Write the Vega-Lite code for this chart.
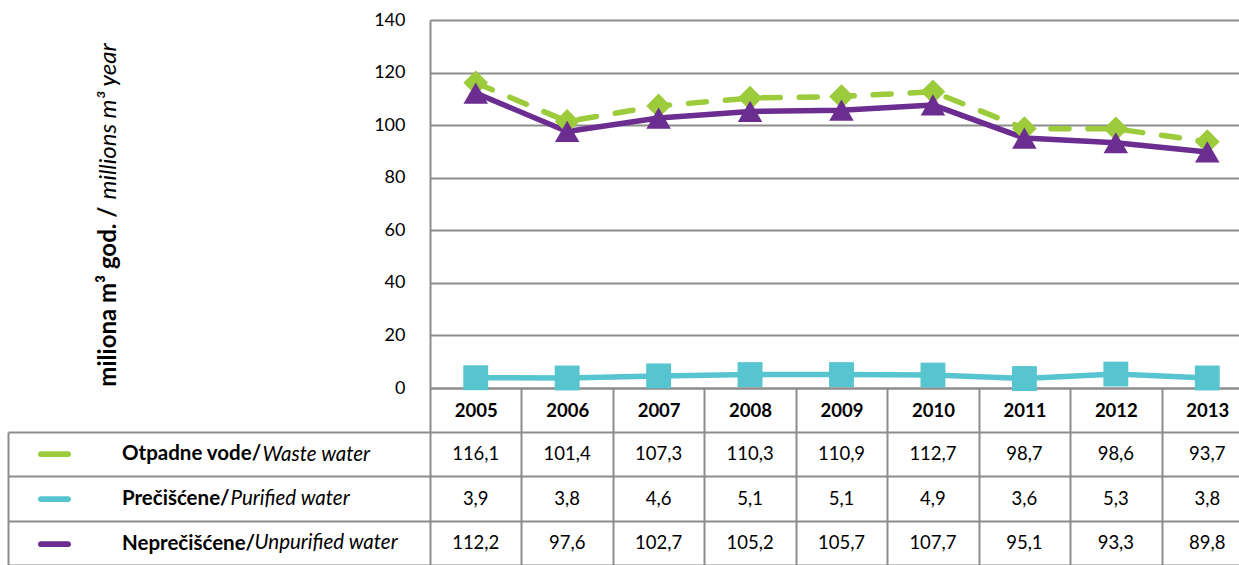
{
  "$schema": "https://vega.github.io/schema/vega-lite/v6.json",
  "width": 1239,
  "height": 565,
  "autosize": "none",
  "padding": 0,
  "background": "white",
  "config": {
    "view": {"stroke": null},
    "font": "Lato",
    "locale": {"number": {"decimal": ",", "thousands": ".", "grouping": [3], "currency": ["", ""]}}
  },
  "data": {
    "values": [
      {"year": "2005", "series": "Otpadne vode", "value": 116.1},
      {"year": "2006", "series": "Otpadne vode", "value": 101.4},
      {"year": "2007", "series": "Otpadne vode", "value": 107.3},
      {"year": "2008", "series": "Otpadne vode", "value": 110.3},
      {"year": "2009", "series": "Otpadne vode", "value": 110.9},
      {"year": "2010", "series": "Otpadne vode", "value": 112.7},
      {"year": "2011", "series": "Otpadne vode", "value": 98.7},
      {"year": "2012", "series": "Otpadne vode", "value": 98.6},
      {"year": "2013", "series": "Otpadne vode", "value": 93.7},
      {"year": "2005", "series": "Prečišćene", "value": 3.9},
      {"year": "2006", "series": "Prečišćene", "value": 3.8},
      {"year": "2007", "series": "Prečišćene", "value": 4.6},
      {"year": "2008", "series": "Prečišćene", "value": 5.1},
      {"year": "2009", "series": "Prečišćene", "value": 5.1},
      {"year": "2010", "series": "Prečišćene", "value": 4.9},
      {"year": "2011", "series": "Prečišćene", "value": 3.6},
      {"year": "2012", "series": "Prečišćene", "value": 5.3},
      {"year": "2013", "series": "Prečišćene", "value": 3.8},
      {"year": "2005", "series": "Neprečišćene", "value": 112.2},
      {"year": "2006", "series": "Neprečišćene", "value": 97.6},
      {"year": "2007", "series": "Neprečišćene", "value": 102.7},
      {"year": "2008", "series": "Neprečišćene", "value": 105.2},
      {"year": "2009", "series": "Neprečišćene", "value": 105.7},
      {"year": "2010", "series": "Neprečišćene", "value": 107.7},
      {"year": "2011", "series": "Neprečišćene", "value": 95.1},
      {"year": "2012", "series": "Neprečišćene", "value": 93.3},
      {"year": "2013", "series": "Neprečišćene", "value": 89.8}
    ]
  },
  "encoding": {
    "x": {
      "field": "year",
      "type": "ordinal",
      "scale": {"type": "band", "range": [430, 1253], "paddingInner": 0, "paddingOuter": 0},
      "axis": {
        "orient": "bottom",
        "offset": -177,
        "title": null,
        "domain": true,
        "domainColor": "#8c8c8c",
        "domainWidth": 2,
        "ticks": true,
        "tickBand": "extent",
        "tickSize": 177,
        "tickColor": "#8c8c8c",
        "tickWidth": 2,
        "grid": false,
        "labelAngle": 0,
        "labelFont": "Lato",
        "labelFontSize": 18.5,
        "labelFontWeight": "bold",
        "labelColor": "black",
        "labelBaseline": "middle",
        "labelPadding": -155
      }
    }
  },
  "layer": [
    {
      "transform": [{"filter": "datum.series === 'Otpadne vode'"}],
      "mark": {"type": "line", "color": "#9ccb3b", "strokeWidth": 5.5, "strokeCap": "round", "strokeJoin": "round", "strokeDash": [18, 19]},
      "encoding": {
        "y": {
          "field": "value",
          "type": "quantitative",
          "scale": {"domain": [0, 140], "range": [388, 20], "nice": false, "zero": true},
          "axis": null
        }
      }
    },
    {
      "transform": [{"filter": "datum.series !== 'Otpadne vode'"}],
      "mark": {"type": "line", "strokeWidth": 5.5, "strokeCap": "round", "strokeJoin": "round"},
      "encoding": {
        "y": {
          "field": "value",
          "type": "quantitative",
          "scale": {"domain": [0, 140], "range": [388, 20], "nice": false, "zero": true},
          "axis": {
            "orient": "left",
            "offset": -430,
            "values": [0, 20, 40, 60, 80, 100, 120, 140],
            "grid": true,
            "gridColor": "#8c8c8c",
            "gridWidth": 2,
            "domain": true,
            "domainColor": "#8c8c8c",
            "domainWidth": 2,
            "ticks": false,
            "labelFont": "Lato",
            "labelFontSize": 18,
            "labelColor": "black",
            "labelPadding": 25,
            "title": "miliona m³ god. /",
            "titleFont": "Lato",
            "titleFontSize": 24,
            "titleFontWeight": "bold",
            "titleColor": "black",
            "titleAngle": -90,
            "titleAlign": "right",
            "titleBaseline": "middle",
            "titleX": -322,
            "titleY": 206
          }
        },
        "color": {
          "field": "series",
          "type": "nominal",
          "scale": {"range": ["#6b2d90", "#57c5cf"]},
          "legend": null
        }
      }
    },
    {
      "mark": {"type": "point", "filled": true, "opacity": 1, "strokeWidth": 0},
      "encoding": {
        "y": {
          "field": "value",
          "type": "quantitative",
          "scale": {"domain": [0, 140], "range": [388, 20], "nice": false, "zero": true},
          "axis": {
            "orient": "left",
            "offset": -430,
            "labels": false,
            "ticks": false,
            "domain": false,
            "grid": false,
            "title": "millions m³ year",
            "titleFont": "Lato",
            "titleFontSize": 24,
            "titleFontWeight": "normal",
            "titleFontStyle": "italic",
            "titleColor": "black",
            "titleAngle": -90,
            "titleAlign": "left",
            "titleBaseline": "middle",
            "titleX": -322,
            "titleY": 199
          }
        },
        "fill": {
          "field": "series",
          "type": "nominal",
          "scale": {"domain": ["Otpadne vode", "Prečišćene", "Neprečišćene"], "range": ["#9ccb3b", "#57c5cf", "#6b2d90"]},
          "legend": {
            "orient": "none",
            "legendX": 38,
            "legendY": 432,
            "padding": 0,
            "direction": "vertical",
            "title": null,
            "symbolType": "M-0.82,-0.18H0.82A0.18,0.18,0,0,1,0.82,0.18H-0.82A0.18,0.18,0,0,1,-0.82,-0.18Z",
            "symbolSize": 1089,
            "symbolStrokeWidth": 0,
            "symbolOpacity": 1,
            "clipHeight": 44.3,
            "rowPadding": 0,
            "labelFont": "Lato",
            "labelFontSize": 20.5,
            "labelFontWeight": "bold",
            "labelColor": "black",
            "labelExpr": "datum.label + '/'",
            "labelOffset": 51
          }
        },
        "shape": {
          "field": "series",
          "type": "nominal",
          "scale": {"range": ["triangle-up", "diamond", "square"]},
          "legend": null
        },
        "size": {
          "field": "series",
          "type": "nominal",
          "scale": {"range": [600, 620, 480]},
          "legend": null
        }
      }
    },
    {
      "transform": [{"filter": "datum.series === 'Otpadne vode'"}],
      "mark": {"type": "text", "font": "Lato", "fontSize": 18.5, "color": "black", "align": "center", "baseline": "middle"},
      "encoding": {
        "y": {
          "field": "series",
          "type": "nominal",
          "scale": {"type": "band", "domain": ["Otpadne vode", "Prečišćene", "Neprečišćene"], "range": [432, 565], "paddingInner": 0, "paddingOuter": 0},
          "axis": {
            "orient": "left",
            "offset": -8,
            "title": null,
            "domain": true,
            "domainColor": "#8c8c8c",
            "domainWidth": 2,
            "ticks": true,
            "tickBand": "extent",
            "tickSize": -422,
            "tickColor": "#8c8c8c",
            "tickWidth": 2,
            "grid": true,
            "gridColor": "#8c8c8c",
            "gridWidth": 2,
            "labelAlign": "left",
            "labelBaseline": "middle",
            "labelFont": "Lato",
            "labelFontSize": 20.5,
            "labelFontStyle": "italic",
            "labelColor": "black",
            "labelPadding": 168,
            "labelExpr": "datum.value === 'Otpadne vode' ? 'Waste water' : ''"
          }
        },
        "text": {"field": "value", "type": "quantitative", "format": ".1f"}
      }
    },
    {
      "transform": [{"filter": "datum.series === 'Prečišćene'"}],
      "mark": {"type": "text", "font": "Lato", "fontSize": 18.5, "color": "black", "align": "center", "baseline": "middle"},
      "encoding": {
        "y": {
          "field": "series",
          "type": "nominal",
          "scale": {"type": "band", "domain": ["Otpadne vode", "Prečišćene", "Neprečišćene"], "range": [432, 565], "paddingInner": 0, "paddingOuter": 0},
          "axis": {
            "orient": "left",
            "offset": -8,
            "title": null,
            "domain": false,
            "grid": false,
            "ticks": false,
            "tickSize": 0,
            "labelAlign": "left",
            "labelBaseline": "middle",
            "labelFont": "Lato",
            "labelFontSize": 20.5,
            "labelFontStyle": "italic",
            "labelColor": "black",
            "labelPadding": -222,
            "labelExpr": "datum.value === 'Prečišćene' ? 'Purified water' : ''"
          }
        },
        "text": {"field": "value", "type": "quantitative", "format": ".1f"}
      }
    },
    {
      "transform": [{"filter": "datum.series === 'Neprečišćene'"}],
      "mark": {"type": "text", "font": "Lato", "fontSize": 18.5, "color": "black", "align": "center", "baseline": "middle"},
      "encoding": {
        "y": {
          "field": "series",
          "type": "nominal",
          "scale": {"type": "band", "domain": ["Otpadne vode", "Prečišćene", "Neprečišćene"], "range": [432, 565], "paddingInner": 0, "paddingOuter": 0},
          "axis": {
            "orient": "left",
            "offset": -8,
            "title": null,
            "domain": false,
            "grid": false,
            "ticks": false,
            "tickSize": 0,
            "labelAlign": "left",
            "labelBaseline": "middle",
            "labelFont": "Lato",
            "labelFontSize": 20.5,
            "labelFontStyle": "italic",
            "labelColor": "black",
            "labelPadding": -246,
            "labelExpr": "datum.value === 'Neprečišćene' ? 'Unpurified water' : ''"
          }
        },
        "text": {"field": "value", "type": "quantitative", "format": ".1f"}
      }
    }
  ],
  "resolve": {"scale": {"y": "independent"}, "axis": {"y": "independent"}}
}
